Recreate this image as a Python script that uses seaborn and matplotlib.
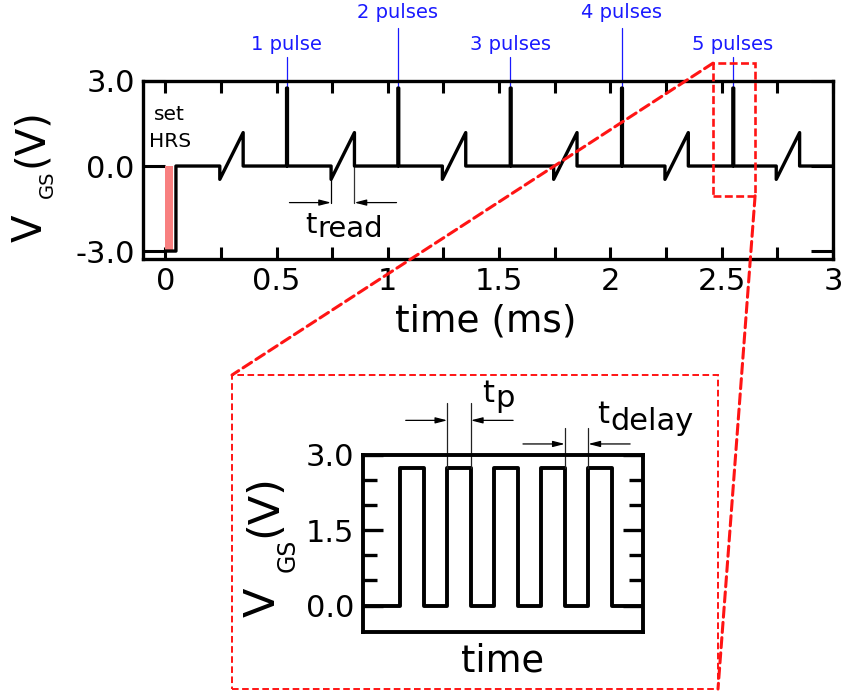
import numpy as np
import pandas as pd
import matplotlib
matplotlib.use("Agg")
import matplotlib.pyplot as plt
import seaborn as sns
from matplotlib.patches import Rectangle, ConnectionPatch

# ---------------- data ----------------
# main waveform (time in ms, voltage in V)
set_voltage = -3.0
set_bar_end = 0.037          # end of the shaded "set HRS" pulse
set_step_time = 0.048        # time at which V_GS returns to 0
read_times = [0.245, 0.745, 1.245, 1.745, 2.245, 2.745]
read_duration = 0.105
read_dip = -0.47
read_peak = 1.18
prog_times = [0.545, 1.045, 1.55, 2.05, 2.55]
prog_counts = [1, 2, 3, 4, 5]
prog_amp = 2.75
prog_width = 0.004
end_time = 3.0
x_tick_values = [0, 0.5, 1, 1.5, 2, 2.5, 3]
x_tick_labels = ["0", "0.5", "1", "1.5", "2", "2.5", "3"]
y_tick_values = [-3.0, 0.0, 3.0]
y_tick_labels = ["-3.0", "0.0", "3.0"]

# inset pulse train (arbitrary time units)
inset_rise = [1.6, 3.6, 5.6, 7.6, 9.6]
inset_tp = 1.0
inset_amp = 2.75
inset_end = 11.94
inset_tick_values = [0.0, 1.5, 3.0]
inset_tick_labels = ["0.0", "1.5", "3.0"]

# ---------------- build waveforms ----------------
events = sorted([(t, "read") for t in read_times] + [(t, "prog") for t in prog_times])
T = [0.0, set_step_time, set_step_time]
V = [set_voltage, set_voltage, 0.0]
for t, kind in events:
    if kind == "read":
        T += [t, t, t + read_duration, t + read_duration]
        V += [0.0, read_dip, read_peak, 0.0]
    else:
        T += [t, t, t + prog_width, t + prog_width]
        V += [0.0, prog_amp, prog_amp, 0.0]
T.append(end_time)
V.append(0.0)
main_df = pd.DataFrame({"time": T, "V": V})

Ti, Vi = [0.0], [0.0]
for r in inset_rise:
    Ti += [r, r, r + inset_tp, r + inset_tp]
    Vi += [0.0, inset_amp, inset_amp, 0.0]
Ti.append(inset_end)
Vi.append(0.0)
inset_df = pd.DataFrame({"time": Ti, "V": Vi})

# ---------------- style ----------------
sns.set_style("white")
plt.rcParams["font.family"] = ["DejaVu Sans"]
plt.rcParams["text.color"] = "black"
plt.rcParams["axes.labelcolor"] = "black"
plt.rcParams["xtick.color"] = "black"
plt.rcParams["ytick.color"] = "black"

W, H = 844, 695
fig = plt.figure(figsize=(W / 100, H / 100), dpi=100)


def fx(px):
    return px / W


def fy(py):
    return 1 - py / H


BLACK = "black"
RED = "#ff1414"
BLUE = "#1a1aff"
PINK = "#f88080"

# ---------------- main axes ----------------
ax = fig.add_axes([fx(143), fy(259), fx(833) - fx(143), fy(81) - fy(259)])
ax.add_patch(Rectangle((0, set_voltage), set_bar_end, -set_voltage,
                       facecolor=PINK, edgecolor="none", zorder=1))
sns.lineplot(data=main_df, x="time", y="V", sort=False, estimator=None,
             color=BLACK, lw=2.4, ax=ax, zorder=3)
ax.set_xlim(-0.1, 3.0)
ax.set_ylim(-3.28, 3.0)
ax.set_xlabel("")
ax.set_ylabel("")
for s in ax.spines.values():
    s.set_linewidth(2.4)
    s.set_visible(True)
    s.set_color(BLACK)
ax.set_xticks(x_tick_values)
ax.set_xticklabels(x_tick_labels)
ax.set_xticks(np.arange(0.25, 3.0, 0.5), minor=True)
ax.set_yticks(y_tick_values)
ax.set_yticklabels(y_tick_labels)
ax.tick_params(axis="x", which="both", direction="in", length=8.6, width=2.2,
               top=True, bottom=True, labelsize=22, pad=6, colors=BLACK)
ax.tick_params(axis="y", which="major", direction="in", length=16, width=2.2,
               left=True, right=True, labelsize=22, pad=6, colors=BLACK)

# "set HRS" note
ax.text(0.018, 1.63, "set", ha="center", va="baseline", fontsize=14.5)
ax.text(0.022, 0.67, "HRS", ha="center", va="baseline", fontsize=14.5)

# pulse count labels
for i, (t, n) in enumerate(zip(prog_times, prog_counts)):
    high = i % 2 == 1
    top = 4.88 if high else 3.85
    base = 5.23 if high else 4.1
    ax.plot([t, t], [prog_amp, top], color=BLUE, lw=0.9, clip_on=False, zorder=2)
    ax.text(t, base, f"{n} pulse" + ("s" if n > 1 else ""), ha="center",
            va="baseline", color=BLUE, fontsize=14, clip_on=False)

# t_read annotation (second read pulse)
r0 = read_times[1]
r1 = r0 + read_duration
y_arrow = -1.29
ax.plot([r0, r0], [read_dip, y_arrow], color=BLACK, lw=0.9)
ax.plot([r1, r1], [0, y_arrow], color="#333333", lw=0.9)
arrow_kw = dict(arrowstyle="-|>,head_length=0.7,head_width=0.18", lw=0.9,
                color=BLACK, shrinkA=0, shrinkB=0)
ax.annotate("", xy=(r0, y_arrow), xytext=(0.558, y_arrow), arrowprops=arrow_kw)
ax.annotate("", xy=(r1, y_arrow), xytext=(1.039, y_arrow), arrowprops=arrow_kw)
ax.text(0.628, -2.37, "t", ha="left", va="baseline", fontsize=21)
ax.text(0.682, -2.52, "read", ha="left", va="baseline", fontsize=21)

# zoom rectangle around the 5-pulse burst
ax.add_patch(Rectangle((2.461, -1.05), 0.189, 4.68, fill=False, ec=RED, lw=1.9,
                       ls=(0, (3, 1.3)), clip_on=False, zorder=5))

# main axis labels
fig.text(fx(486), fy(331), "time (ms)", ha="center", va="baseline", fontsize=27)
fig.text(fx(42), fy(242), "V", rotation=90, rotation_mode="anchor",
         ha="left", va="baseline", fontsize=29)
fig.text(fx(53), fy(198), "GS", rotation=90, rotation_mode="anchor",
         ha="left", va="baseline", fontsize=14)
fig.text(fx(42), fy(167), "(V)", rotation=90, rotation_mode="anchor",
         ha="left", va="baseline", fontsize=29)

# ---------------- inset axes ----------------
ax2 = fig.add_axes([fx(362.7), fy(631.7), fx(643.3) - fx(362.7), fy(455) - fy(631.7)])
sns.lineplot(data=inset_df, x="time", y="V", sort=False, estimator=None,
             color=BLACK, lw=2.8, ax=ax2)
ax2.set_xlim(0, inset_end)
ax2.set_ylim(-0.52, 3.0)
ax2.set_xlabel("")
ax2.set_ylabel("")
for s in ax2.spines.values():
    s.set_linewidth(2.8)
    s.set_visible(True)
    s.set_color(BLACK)
ax2.set_xticks([])
ax2.set_yticks(inset_tick_values)
ax2.set_yticklabels(inset_tick_labels)
ax2.set_yticks([0.5, 1.0, 2.0, 2.5], minor=True)
ax2.tick_params(axis="y", which="major", direction="in", length=14.5, width=2.4,
                left=True, right=True, labelsize=22, pad=6)
ax2.tick_params(axis="y", which="minor", direction="in", length=10, width=2.4,
                left=True, right=True)

# t_p annotation (second pulse)
p0 = inset_rise[1]
p1 = p0 + inset_tp
for xv in (p0, p1):
    ax2.plot([xv, xv], [inset_amp, 4.04], color="#222222", lw=0.9, clip_on=False)
ax2.annotate("", xy=(p0, 3.69), xytext=(1.83, 3.69), arrowprops=arrow_kw,
             annotation_clip=False)
ax2.annotate("", xy=(p1, 3.69), xytext=(6.4, 3.69), arrowprops=arrow_kw,
             annotation_clip=False)
ax2.text(5.10, 4.06, "t", ha="left", va="baseline", fontsize=22, clip_on=False)
ax2.text(5.66, 3.96, "p", ha="left", va="baseline", fontsize=22, clip_on=False)

# t_delay annotation (gap between fourth and fifth pulse)
d0 = inset_rise[3] + inset_tp
d1 = inset_rise[4]
for xv in (d0, d1):
    ax2.plot([xv, xv], [inset_amp, 3.54], color="#222222", lw=0.9, clip_on=False)
ax2.annotate("", xy=(d0, 3.22), xytext=(6.82, 3.22), arrowprops=arrow_kw,
             annotation_clip=False)
ax2.annotate("", xy=(d1, 3.22), xytext=(11.38, 3.22), arrowprops=arrow_kw,
             annotation_clip=False)
ax2.text(9.98, 3.64, "t", ha="left", va="baseline", fontsize=22, clip_on=False)
ax2.text(10.54, 3.50, "delay", ha="left", va="baseline", fontsize=22, clip_on=False)

# inset labels
fig.text(fx(503), fy(672), "time", ha="center", va="baseline", fontsize=26.5)
fig.text(fx(275), fy(617), "V", rotation=90, rotation_mode="anchor",
         ha="left", va="baseline", fontsize=31)
fig.text(fx(295), fy(572), "GS", rotation=90, rotation_mode="anchor",
         ha="left", va="baseline", fontsize=17)
fig.text(fx(276), fy(537), "(V)", rotation=90, rotation_mode="anchor",
         ha="left", va="baseline", fontsize=31)

# ---------------- zoom box and connectors ----------------
fig.add_artist(Rectangle((fx(232), fy(689)), fx(718) - fx(232), fy(375) - fy(689),
                         transform=fig.transFigure, fill=False, ec=RED, lw=1.4,
                         ls=(0, (3.4, 1.8))))
for xy_a, xy_b in [((2.461, 3.63), (fx(232), fy(375))),
                   ((2.65, -1.05), (fx(718), fy(689)))]:
    cp = ConnectionPatch(xyA=xy_a, coordsA=ax.transData, xyB=xy_b,
                         coordsB=fig.transFigure, color=RED, lw=2.2,
                         ls=(0, (3.3, 1.7)))
    fig.add_artist(cp)

fig.savefig("out.png", dpi=100)
